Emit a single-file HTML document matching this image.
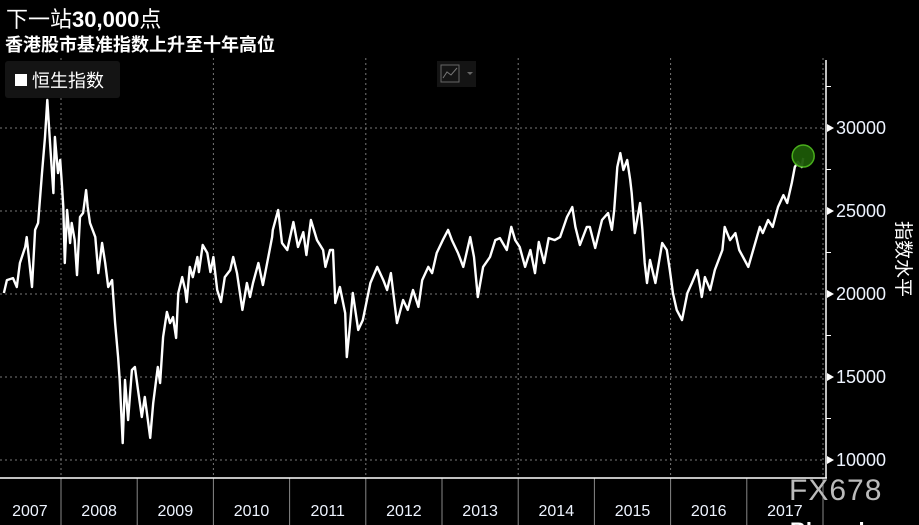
<!DOCTYPE html>
<html><head><meta charset="utf-8"><style>
html,body{margin:0;padding:0;background:#000;}
body{width:919px;height:525px;overflow:hidden;position:relative;font-family:"Liberation Sans","Noto Sans CJK SC",sans-serif;}
svg{position:absolute;left:0;top:0}
</style></head><body>
<svg id="chart" width="919" height="525" viewBox="0 0 919 525">
<text x="6" y="27" fill="#fff" font-size="22" font-family="Liberation Sans,Noto Sans CJK SC,sans-serif">下一站<tspan font-weight="bold">30,000</tspan>点</text>
<text x="5" y="51" fill="#fff" font-size="18" font-weight="bold" font-family="Liberation Sans,Noto Sans CJK SC,sans-serif">香港股市基准指数上升至十年高位</text>
<g id="grid"></g>
<g id="axes"></g>
<path id="line" fill="none" stroke="#fff" stroke-width="2.4" stroke-linejoin="round"/>
<circle id="lastpt" r="11" fill="#1d5a08" stroke="#4db81e" stroke-width="1.5" opacity="0.95"/>
<g>
<rect x="5" y="61" width="115" height="37" rx="3" fill="#141414"/>
<rect x="15" y="74" width="12" height="12" fill="#fff"/>
<text x="32" y="87" fill="#fff" font-size="18" font-family="Liberation Sans,Noto Sans CJK SC,sans-serif">恒生指数</text>
</g>
<g>
<rect x="437" y="61" width="39" height="26" fill="#141414"/>
<rect x="441" y="65" width="18" height="17" fill="none" stroke="#666" stroke-width="1"/>
<polyline points="443,78 447,72 451,75 457,68" fill="none" stroke="#777" stroke-width="1"/>
<polygon points="467,72 473,72 470,75" fill="#666"/>
</g>
<text transform="translate(897,221) rotate(90)" fill="#fff" font-size="19" font-family="Liberation Sans,Noto Sans CJK SC,sans-serif">指数水平</text>
<text x="789" y="500" fill="#bbb" font-size="30" font-family="Liberation Sans,sans-serif" letter-spacing="1">FX678</text>
<text x="790" y="538" fill="#fff" font-size="22" font-weight="bold" font-family="Liberation Sans,sans-serif">Bloomberg</text>
</svg>
<script>
const dates=[2007.25,2007.29,2007.37,2007.42,2007.46,2007.53,2007.55,2007.62,2007.66,2007.70,2007.75,2007.79,2007.82,2007.86,2007.90,2007.92,2007.96,2007.99,2008.01,2008.03,2008.05,2008.08,2008.12,2008.14,2008.18,2008.21,2008.25,2008.29,2008.33,2008.35,2008.38,2008.45,2008.49,2008.54,2008.58,2008.62,2008.67,2008.71,2008.75,2008.77,2008.81,2008.84,2008.88,2008.93,2008.97,2009.01,2009.06,2009.10,2009.17,2009.21,2009.27,2009.30,2009.34,2009.39,2009.43,2009.47,2009.51,2009.54,2009.59,2009.63,2009.65,2009.69,2009.73,2009.79,2009.81,2009.86,2009.92,2009.96,2010.00,2010.05,2010.10,2010.15,2010.22,2010.26,2010.31,2010.38,2010.44,2010.48,2010.52,2010.59,2010.65,2010.72,2010.77,2010.78,2010.85,2010.90,2010.97,2011.05,2011.11,2011.18,2011.22,2011.28,2011.36,2011.44,2011.47,2011.53,2011.57,2011.60,2011.66,2011.73,2011.75,2011.79,2011.83,2011.90,2011.96,2012.06,2012.15,2012.23,2012.28,2012.33,2012.41,2012.49,2012.55,2012.62,2012.69,2012.74,2012.82,2012.87,2012.93,2013.01,2013.08,2013.13,2013.21,2013.28,2013.37,2013.42,2013.47,2013.54,2013.63,2013.70,2013.76,2013.85,2013.91,2013.96,2014.02,2014.09,2014.16,2014.22,2014.27,2014.34,2014.40,2014.48,2014.55,2014.64,2014.71,2014.75,2014.81,2014.90,2014.94,2015.01,2015.10,2015.18,2015.23,2015.26,2015.30,2015.34,2015.38,2015.43,2015.47,2015.49,2015.53,2015.60,2015.63,2015.66,2015.69,2015.73,2015.80,2015.89,2015.95,2015.99,2016.03,2016.08,2016.15,2016.22,2016.28,2016.35,2016.41,2016.45,2016.52,2016.58,2016.68,2016.71,2016.78,2016.85,2016.90,2016.95,2017.02,2017.11,2017.17,2017.21,2017.28,2017.34,2017.41,2017.48,2017.53,2017.59,2017.63,2017.67,2017.72,2017.74];
const values=[20060,20840,20960,20420,21870,22830,23430,20420,23860,24280,27290,29460,31690,28850,26080,29460,27290,28070,26690,25240,21870,25060,23070,24280,23250,21140,24640,24880,26260,25240,24280,23430,21260,23070,21870,20420,20840,18250,16200,14820,11020,14820,12410,15420,15600,14220,12590,13800,11330,13430,15600,14640,17410,18920,18250,18610,17350,20060,21020,20240,19520,21630,21020,22230,21320,22950,22470,21320,22230,20240,19520,21020,21440,22230,21260,19040,20660,19820,20660,21870,20540,22230,23430,23860,25060,23070,22650,24340,22830,23730,22350,24460,23250,22650,21630,22650,22650,19460,20420,18850,16200,18010,20060,17830,18430,20660,21630,20840,20240,21260,18250,19640,19040,20240,19220,20840,21630,21260,22470,23250,23860,23250,22470,21630,23430,22230,19820,21630,22230,23250,23370,22650,24040,23250,22830,21630,22650,21260,23130,21870,23370,23250,23430,24640,25240,24040,22950,24040,24040,22770,24460,24880,23860,25060,27650,28490,27470,28070,26870,26080,23670,25480,23860,21870,20660,22050,20660,23070,22650,21440,20060,19040,18430,20060,20660,21440,19820,21020,20240,21440,22650,24040,23250,23670,22650,22230,21630,23070,24040,23670,24460,24040,25240,25960,25480,26690,27650,27950,27650,28190,28490];
const yTicks=[10000,15000,20000,25000,30000];
const years=["2007","2008","2009","2010","2011","2012","2013","2014","2015","2016","2017"];

const NS="http://www.w3.org/2000/svg";
const X0=-15.2, YW=76.2;
function xs(t){return X0+(t-2007)*YW;}
function ys(v){return 460-(v-10000)*83/5000;}
function mk(tag,attrs,parent){const e=document.createElementNS(NS,tag);for(const k in attrs)e.setAttribute(k,attrs[k]);parent.appendChild(e);return e;}
const grid=document.getElementById('grid'), axes=document.getElementById('axes');
yTicks.forEach(v=>{
  const y=ys(v);
  const g=mk('line',{x1:0,x2:822,y1:y,y2:y,stroke:'#777','stroke-dasharray':'2,3','stroke-width':1},grid);
  
  
  const tri=mk('polygon',{points:`827,${y-4} 834,${y} 827,${y+4}`,fill:'#fff'},axes);
  
  
  const t=mk('text',{x:836,y:y+6,fill:'#eef4ff','font-size':18,'font-family':'Liberation Sans,sans-serif'},axes);
  t.textContent=v;
  
  
  const ym=ys(v+2500);
  if(ym>58){const m=mk('line',{x1:826,x2:831,y1:ym,y2:ym,stroke:'#fff','stroke-width':1},axes);
  
  }
});
years.forEach((yr,i)=>{
  const xb=xs(2007+i+1);
  if(i%2===0){const g=mk('line',{x1:xb,x2:xb,y1:58,y2:478,stroke:'#777','stroke-dasharray':'2,3','stroke-width':1},grid);
  
  }
  const tk=mk('line',{x1:xb,x2:xb,y1:478,y2:525,stroke:'#888','stroke-width':1},axes);
  
  
  const t=mk('text',{x:xs(2007+i+0.5)+(i===0?7:0),y:516,fill:'#eef4ff','font-size':16,'text-anchor':'middle','font-family':'Liberation Sans,sans-serif'},axes);
  t.textContent=yr;
  
  
});
const ax1=mk('line',{x1:0,x2:827,y1:478,y2:478,stroke:'#fff','stroke-width':1.5},axes);


const ax2=mk('line',{x1:826,x2:826,y1:60,y2:478,stroke:'#fff','stroke-width':1.5},axes);


let d='';
dates.forEach((t,i)=>{d+=(i?'L':'M')+xs(t).toFixed(1)+','+ys(values[i]).toFixed(1);});
document.getElementById('line').setAttribute('d',d);
const last=dates.length-1;
const c=document.getElementById('lastpt');
c.setAttribute('cx',xs(dates[last]));
c.setAttribute('cy',ys(values[last])-2);
</script>
</body></html>
